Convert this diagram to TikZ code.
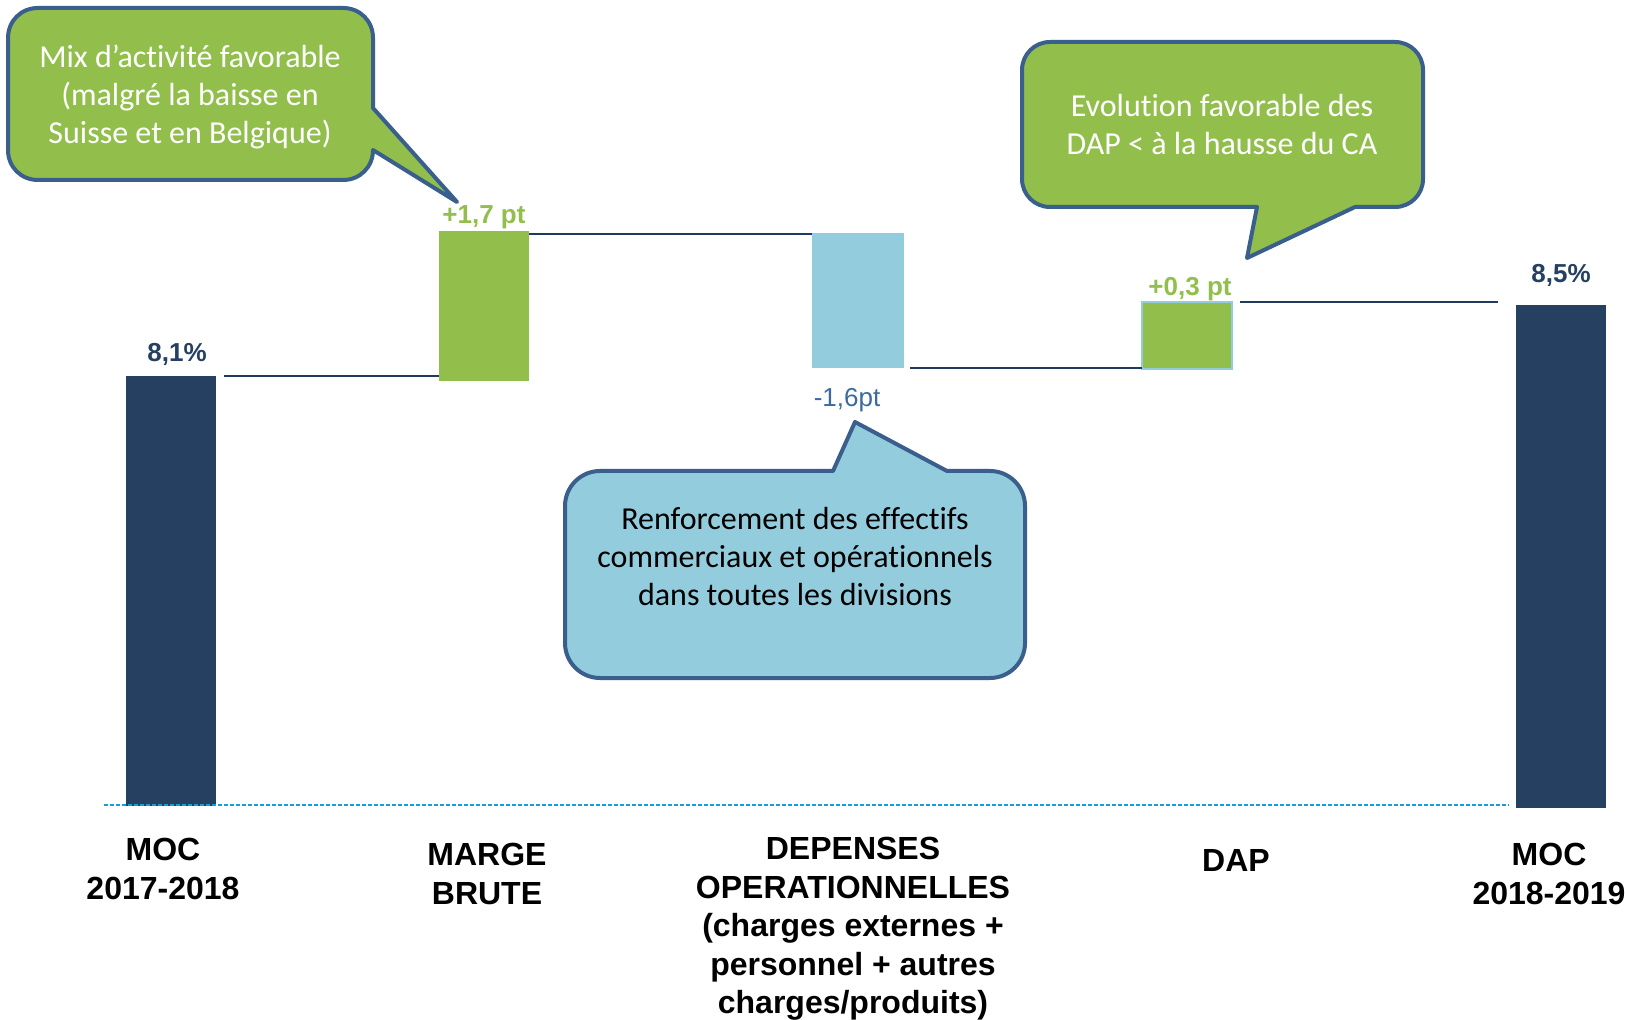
\documentclass[tikz,border=0pt]{standalone}
\usepackage{fontspec}
\setmainfont{Liberation Sans}
\newfontfamily\calfont[Ligatures=NoCommon]{Carlito}
\usetikzlibrary{fit}
\definecolor{navy}{HTML}{264061}
\definecolor{leaf}{HTML}{92BF4C}
\definecolor{aqua}{HTML}{93CDDD}
\definecolor{rim}{HTML}{3A5F8C}
\definecolor{linkc}{HTML}{1F3A5F}
\definecolor{axisc}{HTML}{10A0E0}
\definecolor{dropc}{HTML}{3A6BA0}
\begin{document}
\begin{tikzpicture}[x=0.5pt,y=-0.5pt,
  bar/.style={inner sep=0pt, outer sep=0pt},
  link/.style={draw=linkc, line width=1pt},
  axisline/.style={draw=axisc, line width=0.9pt, dash pattern=on 2pt off 1pt},
  bubble/.style={draw=rim, line width=2pt, line join=round},
  note/.style={font=\calfont\fontsize{16}{19}\selectfont, align=center, inner sep=0pt},
  cat/.style={font=\bfseries\fontsize{16}{19.2}\selectfont, align=center, inner sep=0pt},
  val/.style={font=\bfseries\fontsize{13}{15}\selectfont, inner sep=0pt, anchor=base},
]
\useasboundingbox (0,0) rectangle (1625,1020);
\fill[white] (0,0) rectangle (1625,1020);

% waterfall bars
\node[bar, fill=navy, fit={(126,376) (216,806)}] (b1) {};
\node[bar, fill=leaf, fit={(439,231) (529,381)}] (b2) {};
\node[bar, fill=aqua, draw=aqua, line width=0.5pt, fit={(812,234) (903,368)}] (b3) {};
\node[bar, fill=leaf, draw=aqua, line width=1pt, fit={(1142,302) (1232,369)}] (b4) {};
\node[bar, fill=navy, fit={(1516,305) (1606,808)}] (b5) {};

% step connectors
\draw[link] ([xshift=4pt]b1.north east) -- (b1.north east -| b2.west);
\draw[link] (b2.east |- b3.north) -- (b3.north west);
\draw[link] ([xshift=3.5pt]b3.south east) -- (b3.south east -| b4.west);
\coordinate (e4) at ([xshift=-9pt]b5.north west);
\draw[link] ([xshift=4pt]b4.north east) -- (b4.north -| e4);

% zero line
\coordinate (axL) at (104,805);
\coordinate (axR) at (1509,805);
\draw[axisline] (axL) -- (axR);

% values
\node[val, text=navy] (v1) at (177,362) {8,1\%};
\node[val, text=leaf] (v2) at (484,224) {+1,7 pt};
\node[val, font=\fontsize{13}{15}\selectfont, text=dropc] (v3) at (847,407) {-1,6pt};
\node[val, text=leaf] (v4) at (1190,296) {+0,3 pt};
\node[val, text=navy] (v5) at (1561,283) {8,5\%};

% categories
\node[cat] (c1) at (163,869) {MOC\\2017-2018};
\node[cat] (c2) at (487,874) {MARGE\\BRUTE};
\node[cat] (c3) at (853,929) {DEPENSES\\OPERATIONNELLES\\(charges externes +\\personnel + autres\\charges/produits)};
\node[cat] (c4) at (1236,860) {DAP};
\node[cat] (c5) at (1549,874) {MOC\\2018-2019};

% callouts
\path[bubble, fill=leaf] (38,8) -- (343,8) .. controls (360,8) and (373,21) .. (373,38)
  -- (373,108) -- (457,202) -- (373,150)
  .. controls (373,167) and (360,180) .. (343,180) -- (38,180)
  .. controls (21,180) and (8,167) .. (8,150) -- (8,38)
  .. controls (8,21) and (21,8) .. (38,8) -- cycle;
\node[note, text=white] (n1) at (190,97) {Mix d’activité favorable\\(malgré la baisse en\\Suisse et en Belgique)};

\path[bubble, fill=leaf] (1050,42) -- (1395,42) .. controls (1410.5,42) and (1423,54.5) .. (1423,70)
  -- (1423,179) .. controls (1423,194.5) and (1410.5,207) .. (1395,207)
  -- (1355,207) -- (1247,258) -- (1257,207) -- (1050,207)
  .. controls (1034.5,207) and (1022,194.5) .. (1022,179) -- (1022,70)
  .. controls (1022,54.5) and (1034.5,42) .. (1050,42) -- cycle;
\node[note, text=white] (n2) at (1222,125) {Evolution favorable des\\DAP < à la hausse du CA};

\path[bubble, fill=aqua] (600,471) -- (833,471) -- (855,422) -- (947,471) -- (990,471)
  .. controls (1009.3,471) and (1025,486.7) .. (1025,506) -- (1025,643)
  .. controls (1025,662.3) and (1009.3,678) .. (990,678) -- (600,678)
  .. controls (580.7,678) and (565,662.3) .. (565,643) -- (565,506)
  .. controls (565,486.7) and (580.7,471) .. (600,471) -- cycle;
\node[note, text=black] (n3) at (795,557) {Renforcement des effectifs\\commerciaux et opérationnels\\dans toutes les divisions};
\end{tikzpicture}
\end{document}
